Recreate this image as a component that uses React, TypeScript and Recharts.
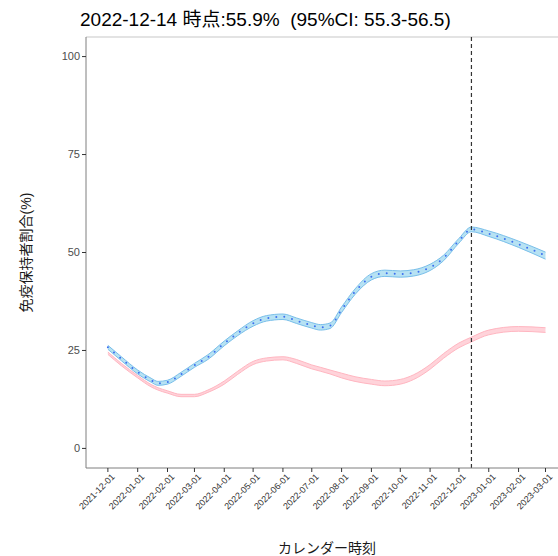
import { ComposedChart, Area, Line, XAxis, YAxis, ReferenceLine } from "recharts"

const dates = [
  "2021-12-01", "2021-12-15", "2022-01-01", "2022-01-15", "2022-01-22", "2022-02-01",
  "2022-02-15", "2022-03-01", "2022-03-15", "2022-04-01", "2022-04-15", "2022-05-01",
  "2022-05-15", "2022-06-01", "2022-06-15", "2022-07-01", "2022-07-10", "2022-07-20",
  "2022-08-01", "2022-08-15", "2022-09-01", "2022-09-15", "2022-10-01", "2022-10-15",
  "2022-11-01", "2022-11-15", "2022-12-01", "2022-12-14", "2023-01-01", "2023-02-01",
  "2023-03-01",
]

// 推定値（青）と95%CI
const blueMid = [
  25.8, 22.9, 19.5, 17.4, 16.6, 16.9, 18.9, 21.2, 23.3, 26.8, 29.4, 31.9, 33.2, 33.6, 32.6, 31.4,
  30.9, 31.3, 35.4, 40.0, 43.8, 44.7, 44.5, 44.8, 46.2, 48.6, 53.0, 55.9, 54.8, 52.1, 49.2,
]
const blueLo = [
  25.3, 22.4, 19.0, 16.9, 16.1, 16.4, 18.4, 20.7, 22.7, 26.2, 28.8, 31.2, 32.5, 32.9, 31.9, 30.7,
  30.2, 30.6, 34.7, 39.3, 43.0, 43.9, 43.7, 44.0, 45.4, 47.9, 52.4, 55.3, 54.1, 51.3, 48.3,
]
const blueHi = [
  26.3, 23.4, 20.0, 17.9, 17.1, 17.4, 19.4, 21.7, 23.9, 27.4, 30.0, 32.6, 33.9, 34.3, 33.3, 32.1,
  31.6, 32.0, 36.1, 40.7, 44.6, 45.5, 45.3, 45.6, 47.0, 49.3, 53.6, 56.5, 55.5, 52.9, 50.1,
]

// ピンクの帯
const pinkLo = [
  24.0, 21.1, 18.0, 15.7, 14.9, 14.1, 13.2, 13.2, 14.3, 16.4, 18.9, 21.4, 22.3, 22.6, 21.7, 20.3,
  19.7, 19.0, 18.0, 17.1, 16.4, 16.0, 16.4, 17.6, 20.2, 23.0, 25.7, 27.2, 29.0, 29.9, 29.6,
]
const pinkHi = [
  24.6, 21.7, 18.6, 16.3, 15.5, 14.7, 13.8, 13.8, 14.9, 17.2, 19.7, 22.2, 23.1, 23.4, 22.7, 21.3,
  20.7, 20.0, 19.2, 18.3, 17.6, 17.2, 17.6, 18.8, 21.4, 24.2, 26.9, 28.4, 30.2, 31.1, 30.8,
]

const tickDates = [
  "2021-12-01", "2022-01-01", "2022-02-01", "2022-03-01", "2022-04-01", "2022-05-01",
  "2022-06-01", "2022-07-01", "2022-08-01", "2022-09-01", "2022-10-01", "2022-11-01",
  "2022-12-01", "2023-01-01", "2023-02-01", "2023-03-01",
]
const yTicks = [0, 25, 50, 75, 100]
const cutoffDate = "2022-12-14"
const title = "2022-12-14 時点:55.9%  (95%CI: 55.3-56.5)"

const FONT = '"Liberation Sans", Arial, "Noto Sans CJK JP", sans-serif'

const origin = Date.parse(dates[0])
const toDay = (s: string) => (Date.parse(s) - origin) / 86400000

const data = dates.map((d, i) => ({
  t: toDay(d),
  blue: blueMid[i],
  blueBand: [blueLo[i], blueHi[i]],
  pinkBand: [pinkLo[i], pinkHi[i]],
}))

const xTicks = tickDates.map(toDay)

function DateTick({ x, y, payload }: any) {
  const idx = xTicks.indexOf(payload.value)
  return (
    <g transform={`translate(${x + 3},${y - 1})`}>
      <text x={0} y={0} dy="0.7em" textAnchor="end" transform="rotate(-45)" fontSize={9} fill="#333" fontFamily={FONT}>
        {tickDates[idx]}
      </text>
    </g>
  )
}

export default function App() {
  return (
    <div style={{ position: "absolute", left: 0, top: 0, width: 558, height: 556, background: "#fff" }}>
      <ComposedChart width={558} height={556} data={data} margin={{ top: 37, right: 0, bottom: 0, left: 0 }}>
        <XAxis
          dataKey="t"
          type="number"
          domain={[-22.75, 468]}
          ticks={xTicks}
          tick={<DateTick />}
          tickSize={4}
          tickLine={{ stroke: "#333" }}
          axisLine={{ stroke: "#7f7f7f" }}
          height={88}
          interval={0}
          allowDataOverflow
        />
        <YAxis
          type="number"
          domain={[-5, 105]}
          ticks={yTicks}
          width={86}
          tickSize={4}
          tickMargin={2}
          tickLine={{ stroke: "#333" }}
          axisLine={{ stroke: "#7f7f7f" }}
          tick={{ fontSize: 11, fill: "#4d4d4d", fontFamily: FONT }}
          allowDataOverflow
        />
        <ReferenceLine y={105} stroke="#c8c8c8" strokeWidth={1.2} />
        <Area
          type="monotone"
          dataKey="pinkBand"
          fill="#ffc0cb"
          fillOpacity={0.7}
          stroke="#ffb6c1"
          strokeWidth={1}
          isAnimationActive={false}
        />
        <Area
          type="monotone"
          dataKey="blueBand"
          fill="#87ceeb"
          fillOpacity={0.6}
          stroke="#79bfea"
          strokeWidth={1}
          isAnimationActive={false}
        />
        <Line
          type="monotone"
          dataKey="blue"
          stroke="#3d6ff0"
          strokeWidth={2}
          strokeDasharray="0 8"
          strokeLinecap="round"
          dot={false}
          isAnimationActive={false}
        />
        <ReferenceLine x={toDay(cutoffDate)} stroke="#333" strokeWidth={1.2} strokeDasharray="4 3" />
        <text x={80} y={26} fontSize={19} fill="#000" fontFamily={FONT} style={{ whiteSpace: "pre" }}>
          {title}
        </text>
        <text
          transform="translate(31,252.5) rotate(-90)"
          textAnchor="middle"
          fontSize={14}
          fill="#1a1a1a"
          fontFamily={FONT}
        >
          免疫保持者割合(%)
        </text>
        <text x={327} y={553} textAnchor="middle" fontSize={14} fill="#1a1a1a" fontFamily={FONT}>
          カレンダー時刻
        </text>
      </ComposedChart>
    </div>
  )
}
